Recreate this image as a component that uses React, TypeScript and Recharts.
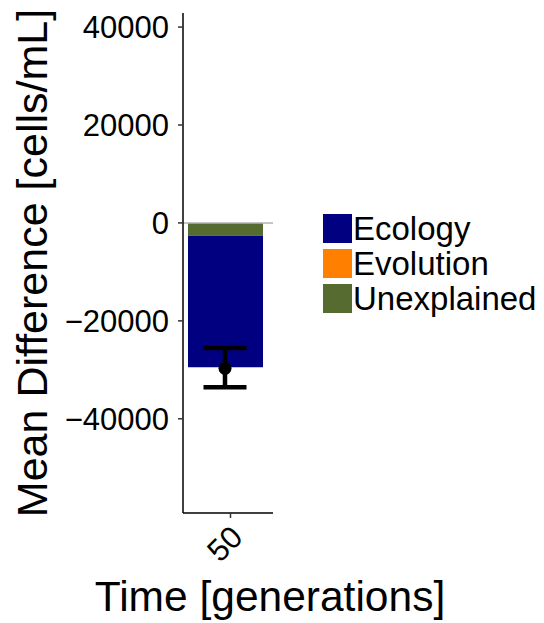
import React from "react";
import { ComposedChart, Bar, Line, XAxis, YAxis, ErrorBar, ReferenceLine, Legend } from "recharts";

// decomposition of the mean difference at each time point
const times = ["50"];
const ecology = [-26850];
const evolution = [0];
const unexplained = [-2600];
const meanDiff = [-29700];
const ciLow = [-33550];
const ciHigh = [-25550];

const yTicks = [-40000, -20000, 0, 20000, 40000];

const series = [
  { key: "ecology", name: "Ecology", color: "#000080" },
  { key: "evolution", name: "Evolution", color: "#FF7F00" },
  { key: "unexplained", name: "Unexplained", color: "#556B2F" },
];

const data = times.map((t, i) => ({
  time: t,
  ecology: ecology[i],
  evolution: evolution[i],
  unexplained: unexplained[i],
  mean: meanDiff[i],
  err: [meanDiff[i] - ciLow[i], ciHigh[i] - meanDiff[i]],
}));

const FONT = "'Liberation Sans', Arial, sans-serif";

const fmt = (v: number) => (v < 0 ? `\u2212${Math.abs(v)}` : `${v}`);

const TimeTick = (props: any) => {
  const { x, y, payload } = props;
  const cx = x + 5.5;
  const tx = cx + 14;
  const ty = y + 26;
  return (
    <g>
      <line x1={cx} y1={y} x2={cx} y2={y + 5} stroke="#333" strokeWidth={1.5} />
      <text
        x={tx}
        y={ty}
        textAnchor="end"
        fontSize={31}
        fontFamily={FONT}
        fill="#000"
        transform={`rotate(-45, ${tx}, ${ty})`}
      >
        {payload.value}
      </text>
    </g>
  );
};

const KeyBox = () => (
  <div style={{ fontFamily: FONT, fontSize: 33, color: "#000" }}>
    {series.map((s) => (
      <div key={s.key} style={{ display: "flex", alignItems: "center", height: 35 }}>
        <span style={{ width: 29, height: 29, background: s.color, marginRight: 1, display: "inline-block" }} />
        <span>{s.name}</span>
      </div>
    ))}
  </div>
);

export default function App() {
  return (
    <div style={{ position: "absolute", left: 0, top: 0, background: "#fff" }}>
      <ComposedChart
        width={544}
        height={623}
        data={data}
        stackOffset="sign"
        margin={{ top: 13, right: 271, bottom: 0, left: 0 }}
      >
        <XAxis
          dataKey="time"
          height={110}
          padding={{ left: 0, right: 6 }}
          axisLine={{ stroke: "#000", strokeWidth: 1.5 }}
          tickLine={false}
          tickSize={0}
          tickMargin={0}
          tick={<TimeTick />}
          label={{
            content: () => (
              <text x={270} y={611} textAnchor="middle" fontSize={42.5} fontFamily={FONT} fill="#000">
                Time [generations]
              </text>
            ),
          }}
        />
        <YAxis
          type="number"
          width={183}
          domain={[-59240, 42870]}
          allowDataOverflow
          ticks={yTicks}
          tickFormatter={fmt}
          tickSize={5}
          tickMargin={9}
          axisLine={{ stroke: "#000", strokeWidth: 1.5 }}
          tickLine={{ stroke: "#333", strokeWidth: 1.5 }}
          tick={{ fontSize: 31, fill: "#000", fontFamily: FONT }}
          label={{
            content: () => (
              <text
                x={47}
                y={263}
                textAnchor="middle"
                fontSize={43}
                fontFamily={FONT}
                fill="#000"
                transform="rotate(-90, 47, 263)"
              >
                Mean Difference [cells/mL]
              </text>
            ),
          }}
        />
        <Bar dataKey="unexplained" stackId="a" fill="#556B2F" barSize={75} isAnimationActive={false} />
        <Bar dataKey="evolution" stackId="a" fill="#FF7F00" barSize={75} isAnimationActive={false} />
        <Bar dataKey="ecology" stackId="a" fill="#000080" barSize={75} isAnimationActive={false} />
        <ReferenceLine y={0} stroke="#b3b3b3" strokeWidth={1.5} />
        <Line
          dataKey="mean"
          stroke="none"
          dot={{ r: 6.5, fill: "#000", stroke: "#000", strokeWidth: 0 }}
          activeDot={false}
          legendType="none"
          isAnimationActive={false}
        >
          <ErrorBar dataKey="err" direction="y" width={21.5} strokeWidth={4.5} stroke="#000" />
        </Line>
        <Legend
          layout="vertical"
          align="center"
          verticalAlign="middle"
          content={<KeyBox />}
          wrapperStyle={{ left: 323, top: 211, width: 221 }}
        />
      </ComposedChart>
    </div>
  );
}
